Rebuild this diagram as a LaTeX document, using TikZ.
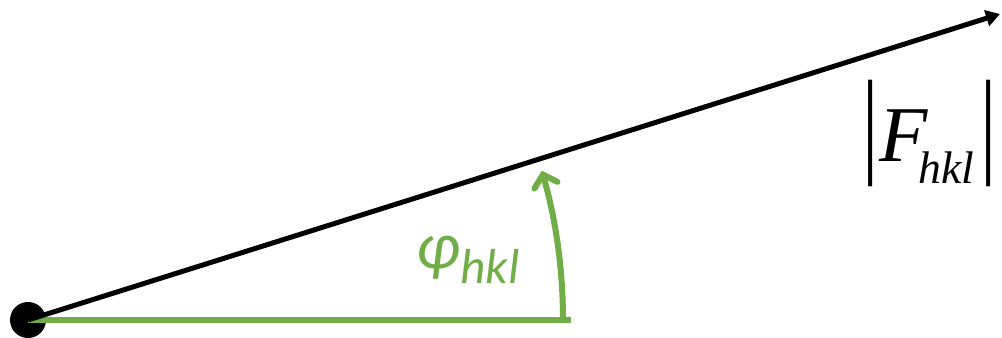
\documentclass[tikz,border=0pt]{standalone}
\usepackage{fontspec}
\usepackage{tikz}
\usetikzlibrary{arrows.meta}
\newfontfamily\calib{Carlito}
\newfontfamily\timesf{Liberation Serif}
\definecolor{phigreen}{RGB}{112,173,71}
\newcommand{\bigbar}{\scalebox{1}[1.45]{\fontsize{46}{46}\selectfont\upshape|}}

\begin{document}
\begin{tikzpicture}[x=0.02cm,y=0.02cm]
\useasboundingbox (0,0) rectangle (1002,338);
% origin of the phasor
\node[circle,fill=black,minimum size=36*0.02cm,inner sep=0pt] (origin) at (28,18) {};
\coordinate (tip) at (1000,324);
\coordinate (base) at (571,18);
\draw[phigreen,line width=6*0.02cm] (origin.center) -- (base);
\draw[line width=5*0.02cm,-{Triangle[length=14*0.02cm,width=16*0.02cm]}] (origin.center) -- (tip);
% phase angle
\coordinate (arcstart) at (563,18);
\draw[phigreen,line width=6*0.02cm,line cap=round,-{Straight Barb[length=11*0.02cm,width=24*0.02cm,line cap=round]}]
  (arcstart) arc[start angle=0,end angle=16.2,radius=535];
\node[phigreen,font=\calib] (phi) at (468,78)
  {\fontsize{38}{38}\selectfont\itshape φ\raisebox{-0.22em}{\fontsize{28}{28}\selectfont hkl}};
% amplitude
\node[font=\timesf] (amp) at (930,205)
  {\bigbar\kern0.05em\fontsize{45}{45}\selectfont\itshape F\kern-0.12em\raisebox{-0.28em}{\fontsize{26}{26}\selectfont hkl}\kern0.08em\bigbar};
\end{tikzpicture}
\end{document}
